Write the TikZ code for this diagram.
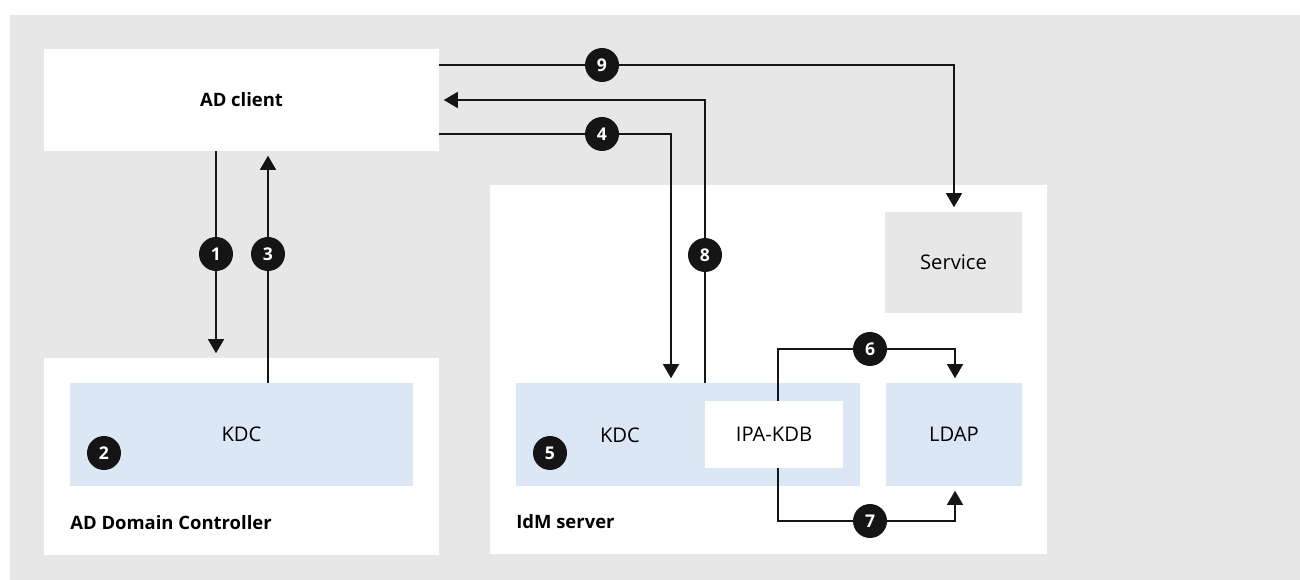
\documentclass[tikz,border=0pt]{standalone}
\usepackage{fontspec}
\setmainfont{Open Sans}
\usetikzlibrary{arrows.meta}
\definecolor{bggray}{HTML}{E7E7E7}
\definecolor{kdcblue}{HTML}{DBE7F5}
\definecolor{inkblack}{HTML}{151515}
\tikzstyle{flow} = [draw,inkblack,line width=1.1pt,-{Triangle[length=8pt,width=9pt]},shorten >=2.5pt]
\tikzset{
  box/.style = {rectangle, inner sep=0pt, align=center, font=\fontsize{11.5}{13}\selectfont},
  whitebox/.style = {box, fill=white},% hosts and IPA-KDB
  bluebox/.style = {box, fill=kdcblue},% KDC, LDAP
  greybox/.style = {box, fill=bggray},% service
  badge/.style = {circle, fill=inkblack, text=white, inner sep=0pt, minimum size=0.68cm,
    font=\bfseries\fontsize{10}{11}\selectfont},
  boxtitle/.style = {anchor=west, inner sep=0pt, font=\bfseries\fontsize{10.5}{12}\selectfont},
}

\begin{document}
\begin{tikzpicture}[x=0.02cm,y=-0.02cm]
  \useasboundingbox (0,0) rectangle (1300,580);
  \fill[bggray] (10,15) rectangle (1300,580);

  \node[whitebox, minimum width=7.9cm, minimum height=2.04cm, font=\bfseries\fontsize{10.5}{12}\selectfont] (client) at (241.5,100) {AD client};
  \node[whitebox, minimum width=7.9cm, minimum height=3.94cm] (adc) at (241.5,456.5) {};
  \node[bluebox, minimum width=6.86cm, minimum height=2.06cm] (adkdc) at (241.5,434.5) {KDC};
  \node[boxtitle] (adctitle) at (70,523) {AD Domain Controller};

  \node[whitebox, minimum width=11.14cm, minimum height=7.38cm] (idm) at (768.5,369.5) {};
  \node[greybox, minimum width=2.74cm, minimum height=2.02cm] (service) at (953.5,262.5) {Service};
  \node[bluebox, minimum width=6.88cm, minimum height=2.06cm] (idmkdc) at (688,434.5) {};
  \node[box] (idmkdclabel) at (620,435) {KDC};
  \node[whitebox, minimum width=2.76cm, minimum height=1.34cm] (ipakdb) at (774,434.5) {IPA-KDB};
  \node[bluebox, minimum width=2.72cm, minimum height=2.06cm] (ldap) at (954,434.5) {LDAP};
  \node[boxtitle] (idmtitle) at (516,522) {IdM server};

  \coordinate (r4) at (671,134);
  \coordinate (r8) at (705,100);
  \coordinate (r9) at (954,65);
  \coordinate (r6) at (778,349);
  \coordinate (r7) at (778,521);
  \coordinate (l6) at (955,349);
  \coordinate (l7) at (955,521);

  \path[flow] ([xshift=-0.51cm]client.south) -- ([xshift=-0.51cm]adc.north);
  \path[flow] ([xshift=0.53cm]adkdc.north) -- ([xshift=0.53cm]client.south);
  \path[flow] (client.east |- r4) -- (r4) -- (idmkdc.north -| r4);
  \path[flow] (idmkdc.north -| r8) -- (r8) -- (client.east);
  \path[flow] (client.east |- r9) -- (r9) -- (service.north -| r9);
  \path[flow] (ipakdb.north -| r6) -- (r6) -- (l6) -- (ldap.north -| l6);
  \path[flow] (ipakdb.south -| r7) -- (r7) -- (l7) -- (ldap.south -| l7);

  \node[badge] (b1) at (216,254) {1};
  \node[badge] (b2) at (104,453) {2};
  \node[badge] (b3) at (268,254) {3};
  \node[badge] (b4) at (602,134) {4};
  \node[badge] (b5) at (550,453) {5};
  \node[badge] (b6) at (870,349) {6};
  \node[badge] (b7) at (870,521) {7};
  \node[badge] (b8) at (705,255) {8};
  \node[badge] (b9) at (602,65) {9};
\end{tikzpicture}
\end{document}
